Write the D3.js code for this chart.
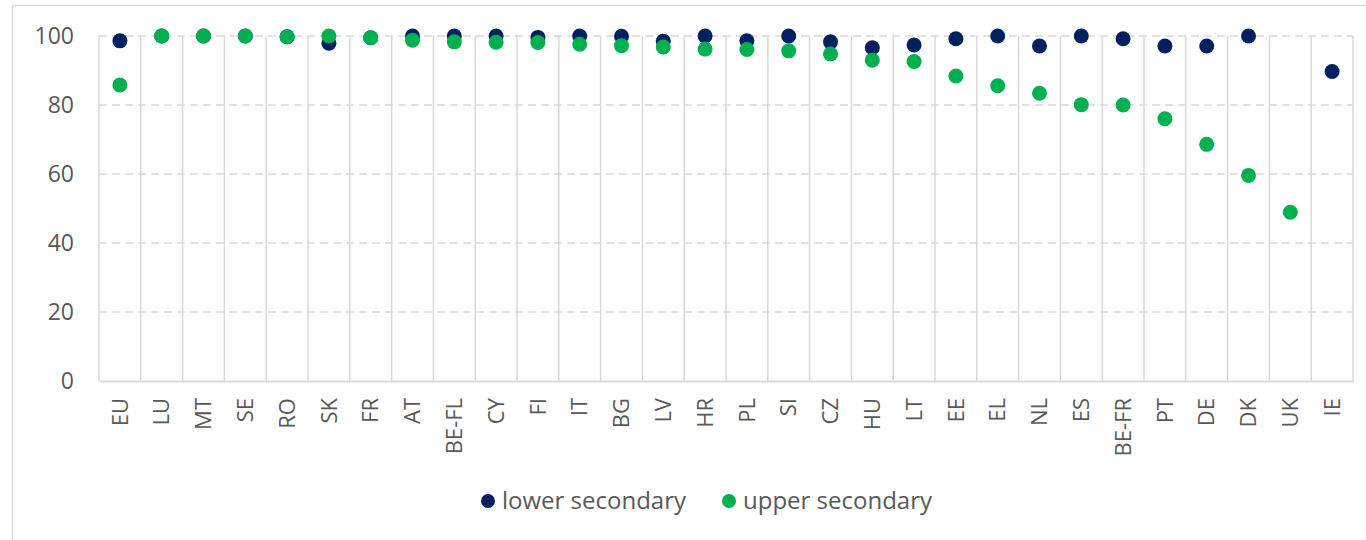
<!DOCTYPE html>
<html>
<head>
<meta charset="utf-8">
<script src="https://cdn.jsdelivr.net/npm/d3@7"></script>
<style>
  body { margin: 0; background: #fff; }
  text { font-family: "Open Sans", sans-serif; fill: #595959; }
</style>
</head>
<body>
<div id="chart"></div>
<script>
var categories = ["EU", "LU", "MT", "SE", "RO", "SK", "FR", "AT", "BE-FL", "CY", "FI", "IT", "BG", "LV", "HR",
    "PL", "SI", "CZ", "HU", "LT", "EE", "EL", "NL", "ES", "BE-FR", "PT", "DE", "DK", "UK", "IE"];
var lowerSecondary = [98.6, 100, 100, 100, 99.8, 97.9, 99.5, 100, 100, 100, 99.6, 100, 99.9, 98.5, 100,
    98.6, 100, 98.3, 96.6, 97.4, 99.2, 100, 97.1, 100, 99.2, 97.1, 97.1, 100, null, 89.7];
var upperSecondary = [85.8, 100, 100, 100, 99.8, 100, 99.5, 98.8, 98.3, 98.2, 98.1, 97.6, 97.2, 96.8, 96.2,
    96.1, 95.7, 94.8, 93.0, 92.6, 88.4, 85.6, 83.4, 80.1, 80.0, 76.0, 68.6, 59.6, 48.9, null];
var yTicks = [0, 20, 40, 60, 80, 100];
var seriesNames = ["lower secondary", "upper secondary"];
var seriesColors = ["#002060", "#00b050"];

var width = 1366, height = 540;
var margin = { top: 36, left: 99, right: 13, bottom: 159 };

var svg = d3.select("#chart").append("svg")
    .attr("width", width)
    .attr("height", height);

// outer frame
svg.append("rect")
    .attr("x", 12.5).attr("y", 5.5)
    .attr("width", width).attr("height", height)
    .attr("fill", "none")
    .attr("stroke", "#d9d9d9")
    .attr("stroke-width", 1.5);

var x = d3.scaleBand()
    .domain(categories)
    .range([margin.left, width - margin.right]);

var y = d3.scaleLinear()
    .domain([0, 100])
    .range([height - margin.bottom, margin.top]);

//horizontal dashed grid
svg.append("g")
    .selectAll("line")
    .data(yTicks.filter(function(d) { return d > 0; }))
    .join("line")
    .attr("x1", margin.left).attr("x2", width - margin.right)
    .attr("y1", function(d) { return y(d); })
    .attr("y2", function(d) { return y(d); })
    .attr("stroke", "#d9d9d9")
    .attr("stroke-width", 1.5)
    .attr("stroke-dasharray", "8,5");

//vertical grid at band edges
var edges = categories.map(function(c) { return x(c); });
edges.push(width - margin.right);
svg.append("g")
    .selectAll("line")
    .data(edges)
    .join("line")
    .attr("x1", function(d) { return d; }).attr("x2", function(d) { return d; })
    .attr("y1", y(100)).attr("y2", y(0))
    .attr("stroke", "#d9d9d9")
    .attr("stroke-width", 1.5);

//x axis
var xAxis = svg.append("g")
    .attr("transform", "translate(0," + y(0) + ")")
    .call(d3.axisBottom(x).tickSize(0).tickSizeOuter(0));
xAxis.select(".domain").attr("stroke", "#d9d9d9").attr("stroke-width", 2);
xAxis.selectAll("text")
    .attr("transform", "rotate(-90)")
    .attr("text-anchor", "end")
    .attr("x", -17)
    .attr("y", 0)
    .attr("dy", "0.35em")
    .style("font-size", "22px")
    .style("font-family", "'Open Sans', sans-serif")
    .attr("fill", "#595959");

//y axis
var yAxis = svg.append("g")
    .attr("transform", "translate(" + margin.left + ",0)")
    .call(d3.axisLeft(y).tickValues(yTicks).tickSize(0).tickPadding(25));
yAxis.select(".domain").remove();
yAxis.selectAll("text")
    .style("font-size", "23px")
    .style("font-family", "'Open Sans', sans-serif")
    .attr("fill", "#595959");

//dots
[lowerSecondary, upperSecondary].forEach(function(values, i) {
    svg.append("g")
        .selectAll("circle")
        .data(categories.map(function(c, j) { return { c: c, v: values[j] }; })
            .filter(function(d) { return d.v != null; }))
        .join("circle")
        .attr("cx", function(d) { return x(d.c) + x.bandwidth() / 2; })
        .attr("cy", function(d) { return y(d.v); })
        .attr("r", 7.5)
        .attr("fill", seriesColors[i]);
});

//legend
var legendX = [488, 729];
var legend = svg.append("g").selectAll("g")
    .data(seriesNames)
    .join("g")
    .attr("transform", function(d, i) { return "translate(" + legendX[i] + ",501)"; });
legend.append("circle")
    .attr("r", 7)
    .attr("fill", function(d, i) { return seriesColors[i]; });
legend.append("text")
    .attr("x", 14)
    .attr("dy", "0.35em")
    .style("font-size", "24px")
    .text(function(d) { return d; });
</script>
</body>
</html>
